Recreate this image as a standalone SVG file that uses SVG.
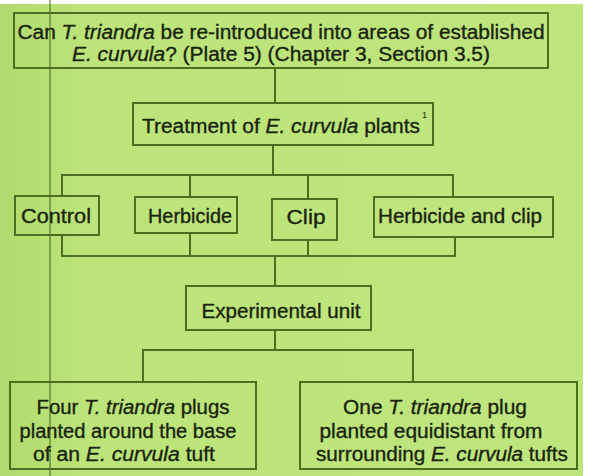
<svg xmlns="http://www.w3.org/2000/svg" width="607" height="476" viewBox="0 0 607 476">
<defs>
<style>
.bx{fill:none;stroke:#4d6e1f;stroke-width:2}
.ln{fill:none;stroke:#4d6e1f;stroke-width:2}
.t{font-family:"Liberation Sans",Arial,sans-serif;font-size:20px;fill:#1a2410;stroke:#1a2410;stroke-width:0.35;text-anchor:middle}
.i{font-style:italic}
</style>
<linearGradient id="bg" x1="0" y1="0" x2="1" y2="0">
<stop offset="0" stop-color="#b0da6e"/>
<stop offset="0.15" stop-color="#bce47a"/>
<stop offset="1" stop-color="#bfe67e"/>
</linearGradient>
</defs>
<rect x="0" y="0" width="607" height="476" fill="#ffffff"/>
<rect x="0" y="4" width="583" height="472" fill="url(#bg)"/>
<line x1="50" y1="0" x2="50" y2="476" stroke="#5d7d2c" stroke-width="2" opacity="0.6"/>
<g id="connectors">
<line class="ln" x1="275" y1="68" x2="275" y2="103"/>
<line class="ln" x1="273" y1="145" x2="273" y2="175"/>
<line class="ln" x1="61" y1="175" x2="454" y2="175"/>
<line class="ln" x1="62" y1="175" x2="62" y2="196"/>
<line class="ln" x1="190" y1="175" x2="190" y2="197"/>
<line class="ln" x1="308" y1="175" x2="308" y2="199"/>
<line class="ln" x1="453" y1="175" x2="453" y2="197"/>
<line class="ln" x1="61" y1="256" x2="456" y2="256"/>
<line class="ln" x1="62" y1="235" x2="62" y2="256"/>
<line class="ln" x1="190" y1="233" x2="190" y2="256"/>
<line class="ln" x1="308" y1="240" x2="308" y2="256"/>
<line class="ln" x1="455" y1="237" x2="455" y2="256"/>
<line class="ln" x1="275" y1="256" x2="275" y2="286"/>
<line class="ln" x1="275" y1="330" x2="275" y2="350"/>
<line class="ln" x1="142" y1="350" x2="414" y2="350"/>
<line class="ln" x1="143" y1="350" x2="143" y2="382"/>
<line class="ln" x1="413" y1="350" x2="413" y2="382"/>
</g>
<g id="question">
<rect class="bx" x="14" y="13" width="534" height="55"/>
<text class="t" x="281" y="39" textLength="527" lengthAdjust="spacingAndGlyphs">Can <tspan class="i">T. triandra</tspan> be re-introduced into areas of established</text>
<text class="t" x="281" y="61" textLength="418" lengthAdjust="spacingAndGlyphs"><tspan class="i">E. curvula</tspan>? (Plate 5) (Chapter 3, Section 3.5)</text>
</g>
<g id="treatment">
<rect class="bx" x="133" y="103" width="300" height="42"/>
<text class="t" x="281" y="133" textLength="278" lengthAdjust="spacingAndGlyphs">Treatment of <tspan class="i">E. curvula</tspan> plants</text>
<text x="422" y="118" style="font-family:'Liberation Sans',Arial,sans-serif;font-size:9px;fill:#1a2410">1</text>
</g>
<g id="control">
<rect class="bx" x="15" y="196" width="84" height="39"/>
<text class="t" x="56" y="223" textLength="70" lengthAdjust="spacingAndGlyphs">Control</text>
</g>
<g id="herbicide">
<rect class="bx" x="135" y="197" width="102" height="36"/>
<text class="t" x="190" y="223" textLength="84" lengthAdjust="spacingAndGlyphs">Herbicide</text>
</g>
<g id="clip">
<rect class="bx" x="272" y="199" width="65" height="41"/>
<text class="t" x="306" y="224" textLength="39" lengthAdjust="spacingAndGlyphs">Clip</text>
</g>
<g id="herbicide-and-clip">
<rect class="bx" x="374" y="197" width="179" height="40"/>
<text class="t" x="460" y="223" textLength="164" lengthAdjust="spacingAndGlyphs">Herbicide and clip</text>
</g>
<g id="experimental-unit">
<rect class="bx" x="186" y="286" width="185" height="44"/>
<text class="t" x="281" y="318" textLength="159" lengthAdjust="spacingAndGlyphs">Experimental unit</text>
</g>
<g id="four-plugs">
<rect class="bx" x="10" y="382" width="246" height="87"/>
<text class="t" x="133" y="414" textLength="193" lengthAdjust="spacingAndGlyphs">Four <tspan class="i">T. triandra</tspan> plugs</text>
<text class="t" x="128" y="438" textLength="217" lengthAdjust="spacingAndGlyphs">planted around the base</text>
<text class="t" x="124" y="461" textLength="182" lengthAdjust="spacingAndGlyphs">of an <tspan class="i">E. curvula</tspan> tuft</text>
</g>
<g id="one-plug">
<rect class="bx" x="300" y="382" width="277" height="87"/>
<text class="t" x="435" y="414" textLength="184" lengthAdjust="spacingAndGlyphs">One <tspan class="i">T. triandra</tspan> plug</text>
<text class="t" x="431" y="438" textLength="223" lengthAdjust="spacingAndGlyphs">planted equidistant from</text>
<text class="t" x="442" y="461" textLength="252" lengthAdjust="spacingAndGlyphs">surrounding <tspan class="i">E. curvula</tspan> tufts</text>
</g>
</svg>
